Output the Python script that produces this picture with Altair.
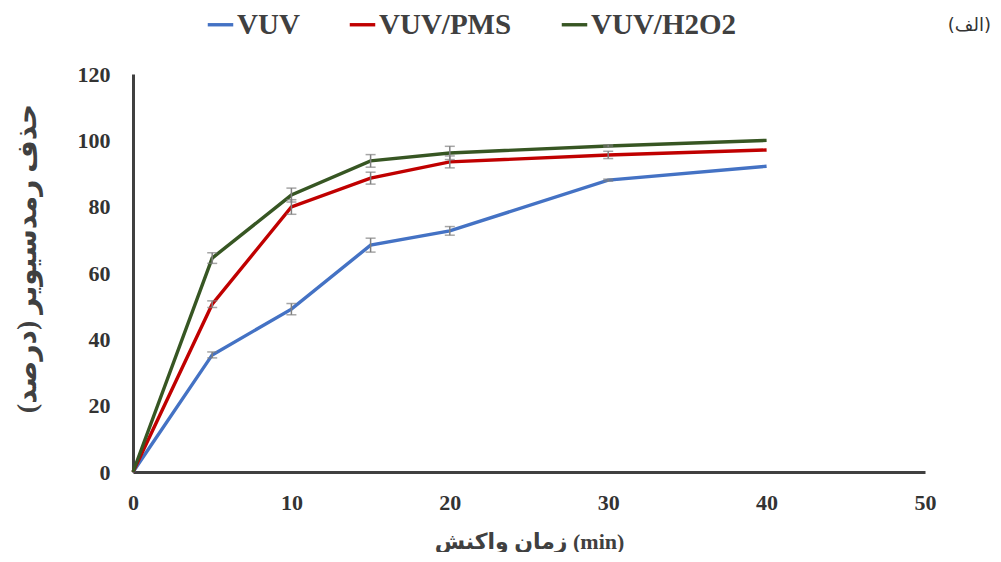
import altair as alt
import pandas as pd

times = [0, 5, 10, 15, 20, 30, 40]
series_names = ["VUV", "VUV/PMS", "VUV/H2O2"]
vuv = [0, 35.3, 49.1, 68.4, 72.7, 88.0, 92.2]
pms = [0, 50.6, 79.9, 88.6, 93.5, 95.6, 97.1]
h2o2 = [0, 64.5, 83.5, 93.8, 96.2, 98.3, 100.0]
err_vuv = [0, 0.9, 1.7, 2.1, 1.3, 0.3, 0]
err_pms = [0, 1.0, 2.2, 1.8, 1.8, 1.1, 0]
err_h2o2 = [0, 1.6, 2.1, 1.9, 2.0, 0.3, 0]
colors = ["#4472C4", "#C00000", "#375623"]

rows = []
for name, vals, errs in zip(series_names, [vuv, pms, h2o2], [err_vuv, err_pms, err_h2o2]):
    for t, v, e in zip(times, vals, errs):
        rows.append({"t": t, "v": v, "lo": v - e, "hi": v + e, "e": e, "s": name})
df = pd.DataFrame(rows)

FONT = "Liberation Serif, DejaVu Sans"

x_enc = alt.X("t:Q", scale=alt.Scale(domain=[0, 50]),
              axis=alt.Axis(values=[0, 10, 20, 30, 40, 50], title="زمان واکنش (min)",
                            labelPadding=20, titlePadding=18, titleFontSize=22,
                            labelFlush=False))
lines = alt.Chart(df).mark_line(strokeWidth=3.4).encode(
    x=x_enc,
    y=alt.Y("v:Q", scale=alt.Scale(domain=[0, 120]),
            axis=alt.Axis(values=[0, 20, 40, 60, 80, 100, 120], title="حذف رمدسیویر (درصد)",
                          labelPadding=23, titlePadding=36, titleFontSize=28, titleY=184,
                          labelFlush=False)),
    color=alt.Color("s:N", scale=alt.Scale(domain=series_names, range=colors),
                    legend=alt.Legend(title=None, orient="none", legendX=73, legendY=-64,
                                      direction="horizontal", symbolType="stroke",
                                      symbolStrokeWidth=3.4, symbolSize=650,
                                      labelFont=FONT, labelFontSize=29, labelFontWeight="bold",
                                      labelColor="#404040", columnPadding=42, labelOffset=2)),
    order="t:Q",
)

errs = alt.Chart(df).transform_filter("datum.e > 0").mark_errorbar(
    ticks=alt.MarkConfig(size=10, color="#808080", strokeWidth=1.5),
    color="#808080", thickness=1.5
).encode(
    x="t:Q",
    y=alt.Y("lo:Q", title=""),
    y2="hi:Q",
)

label = alt.Chart(pd.DataFrame({"txt": ["(الف)"]})).mark_text(
    align="right", baseline="middle", fontSize=18, font="DejaVu Sans", color="#333333"
).encode(x=alt.value(858), y=alt.value(-48), text="txt:N")

chart = alt.layer(lines, errs, label).properties(
    width=792, height=398,
    autosize=alt.AutoSizeParams(type="none"),
    padding={"left": 125, "top": 66, "right": 66, "bottom": 80},
).configure_view(stroke=None).configure_axis(
    grid=False, ticks=False, domainColor="#404040", domainWidth=3,
    labelFont=FONT, labelFontSize=22, labelFontWeight="bold", labelColor="#333333",
    titleFont=FONT, titleFontWeight="bold", titleColor="#404040",
)

chart.save("out.html", embed_options={"renderer": "svg", "actions": False})
